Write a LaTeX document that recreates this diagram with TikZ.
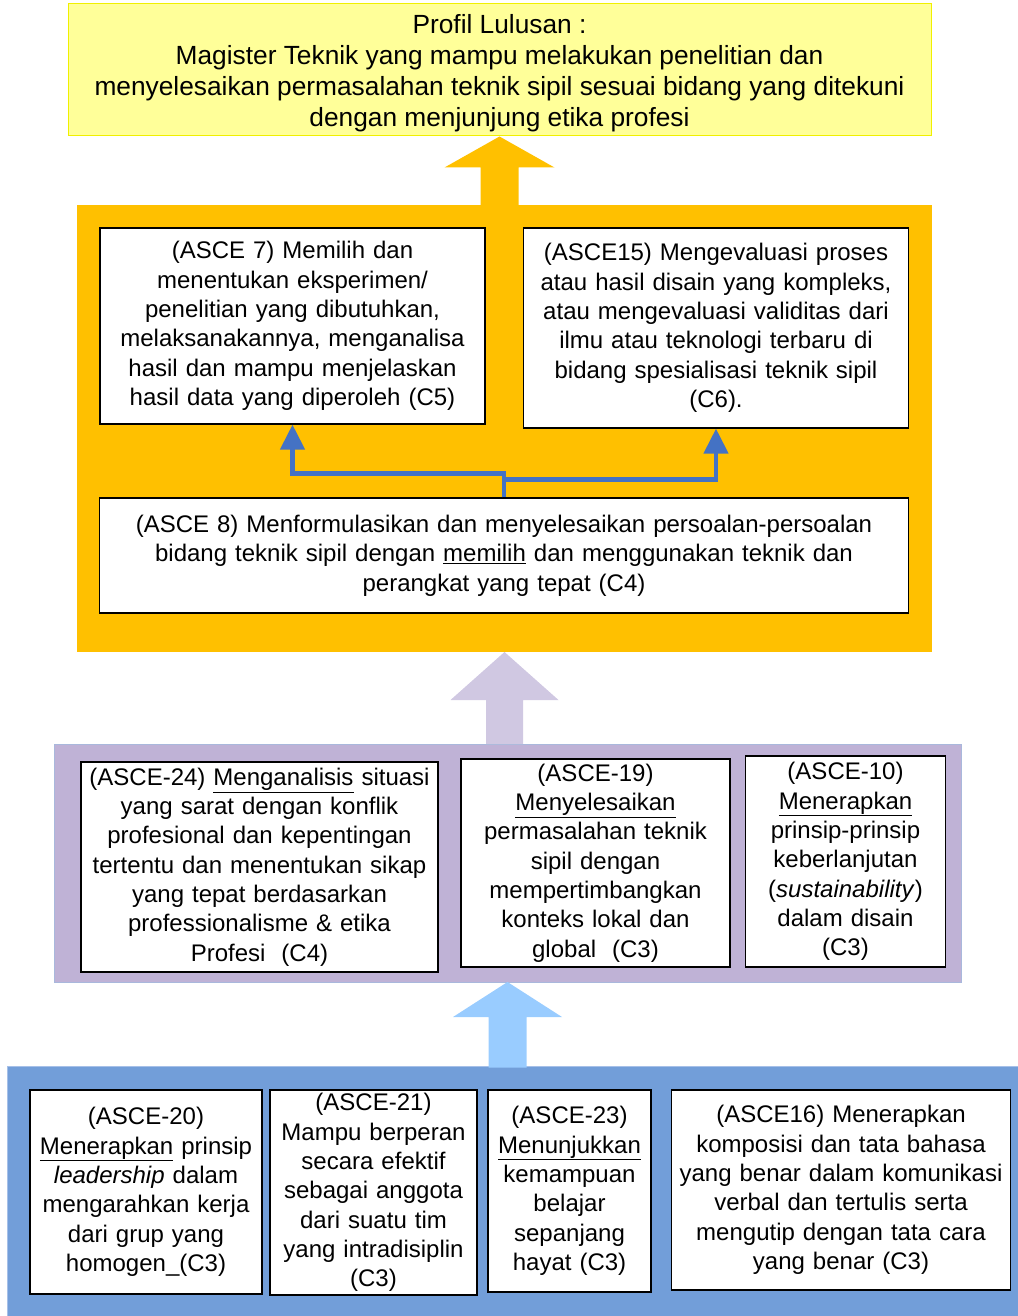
\documentclass[tikz,border=0pt]{standalone}
\usepackage{fontspec}
\setmainfont{Liberation Sans}
\usetikzlibrary{arrows.meta,calc}

\definecolor{goalfill}{HTML}{FFFF99}
\definecolor{goalline}{HTML}{F0F000}
\definecolor{orng}{HTML}{FFC000}
\definecolor{lavfill}{HTML}{BFB2D6}
\definecolor{lavline}{HTML}{A9B8DC}
\definecolor{lavarrow}{HTML}{D0C8E2}
\definecolor{bluefill}{HTML}{729ED9}
\definecolor{blueline}{HTML}{A6C0E8}
\definecolor{skyarrow}{HTML}{99CCFF}
\definecolor{connblue}{HTML}{4472C4}

\tikzset{
  goal/.style={draw=goalline, fill=goalfill, line width=1pt, inner sep=0pt,
    align=center, font=\fontsize{26.3}{31}\selectfont},
  panel/.style={inner sep=0pt, outer sep=0pt},
  cbox/.style={draw=black, fill=white, line width=1.2pt, inner sep=2pt,
    align=center, font=\fontsize{24}{29.3}\selectfont},
  conn/.style={draw=connblue, line width=4.5pt,
    -{Triangle[width=24pt,length=25pt]}},
}

\begin{document}
\begin{tikzpicture}[x=1pt,y=-1pt]
\useasboundingbox (0,0) rectangle (1017,1316);

% graduate profile
\node[goal, minimum width=863pt, minimum height=132pt] (goal) at (499.5,70)
  {\rule{0pt}{25pt}Profil Lulusan :\\
   Magister Teknik yang mampu melakukan penelitian dan\\
   menyelesaikan permasalahan teknik sipil sesuai bidang yang ditekuni\\
   dengan menjunjung etika profesi};

% three level panels
\node[panel, fill=orng, minimum width=855pt, minimum height=447pt] (orng) at (504.5,428.5) {};
\node[panel, fill=lavfill, draw=lavline, line width=1pt, minimum width=907pt, minimum height=238pt] (lav) at (507.5,863) {};
\node[panel, fill=bluefill, draw=blueline, line width=1pt, minimum width=1014pt, minimum height=252pt] (blu) at (514,1192) {};

% wide arrows between panels
\fill[orng] (goal.south) -- ++(55,31) -- ++(-36,0) -- ++(0,39) -- ++(-38,0)
  -- ++(0,-39) -- ++(-36,0) -- cycle;
\fill[lavarrow] (orng.south) -- ++(54,48) -- ++(-35.5,0) -- ++(0,44) -- ++(-37,0)
  -- ++(0,-44) -- ++(-35.5,0) -- cycle;
\fill[skyarrow] (lav.south) -- ++(54.5,35) -- ++(-35.5,0) -- ++(0,50.5) -- ++(-38,0)
  -- ++(0,-50.5) -- ++(-35.5,0) -- cycle;

% upper level
\node[cbox, text width=381pt, minimum height=196pt] (a7) at (292.5,326)
  {(ASCE 7) Memilih dan\\
   menentukan eksperimen/\\
   penelitian yang dibutuhkan,\\
   melaksanakannya, menganalisa\\
   hasil dan mampu menjelaskan\\
   hasil data yang diperoleh (C5)};
\node[cbox, text width=381pt, minimum height=200pt] (a15) at (716,328)
  {(ASCE15) Mengevaluasi proses\\
   atau hasil disain yang kompleks,\\
   atau mengevaluasi validitas dari\\
   ilmu atau teknologi terbaru di\\
   bidang spesialisasi teknik sipil\\
   (C6).};
\node[cbox, text width=805pt, minimum height=115pt] (a8) at (504,555.5)
  {(ASCE 8) Menformulasikan dan menyelesaikan persoalan-persoalan\\
   bidang teknik sipil dengan \underline{memilih} dan menggunakan teknik dan\\
   perangkat yang tepat (C4)};

\draw[conn] (a8.north) -- ++(0,-24) -| (a7.south);
\draw[conn] (a8.north) -- ++(0,-18) -| (a15.south);

% middle level
\node[cbox, text width=353pt, minimum height=210pt] (a24) at (259.5,867)
  {(ASCE-24) \underline{Menganalisis} situasi\\
   yang sarat dengan konflik\\
   profesional dan kepentingan\\
   tertentu dan menentukan sikap\\
   yang tepat berdasarkan\\
   professionalisme \& etika\\
   Profesi\ \ (C4)};
\node[cbox, text width=265pt, minimum height=208pt] (a19) at (595.5,863)
  {(ASCE-19)\\
   \underline{Menyelesaikan}\\
   permasalahan teknik\\
   sipil dengan\\
   mempertimbangkan\\
   konteks lokal dan\\
   global\ \ (C3)};
\node[cbox, text width=196pt, minimum height=211pt] (a10) at (845.5,861.5)
  {(ASCE-10)\\
   \underline{Menerapkan}\\
   prinsip-prinsip\\
   keberlanjutan\\
   (\textit{sustainability})\\
   dalam disain\\
   (C3)};

% lower level
\node[cbox, text width=228pt, minimum height=204pt] (a20) at (146,1192)
  {(ASCE-20)\\
   \underline{Menerapkan} prinsip\\
   \textit{leadership} dalam\\
   mengarahkan kerja\\
   dari grup yang\\
   homogen\_(C3)};
\node[cbox, text width=203pt, minimum height=205pt] (a21) at (373.5,1192.5)
  {(ASCE-21)\\
   Mampu berperan\\
   secara efektif\\
   sebagai anggota\\
   dari suatu tim\\
   yang intradisiplin\\
   (C3)};
\node[cbox, text width=159pt, minimum height=202pt] (a23) at (569.5,1191)
  {(ASCE-23)\\
   \underline{Menunjukkan}\\
   kemampuan\\
   belajar\\
   sepanjang\\
   hayat (C3)};
\node[cbox, text width=335pt, minimum height=200pt] (a16) at (841,1190)
  {(ASCE16) Menerapkan\\
   komposisi dan tata bahasa\\
   yang benar dalam komunikasi\\
   verbal dan tertulis serta\\
   mengutip dengan tata cara\\
   yang benar (C3)};
\end{tikzpicture}
\end{document}
